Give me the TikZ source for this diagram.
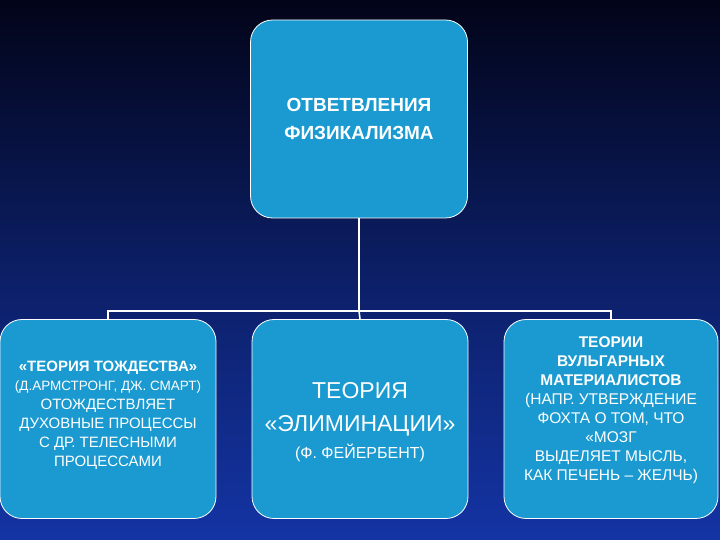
\documentclass[tikz,border=0pt]{standalone}
\usepackage{fontspec}
\setmainfont{Liberation Sans}
\begin{document}
\begin{tikzpicture}[x=1pt,y=1pt,
  bx/.style={draw=white,line width=0.8pt,fill=boxc,rounded corners=22pt,text=white,align=center,inner sep=0pt},
  ln/.style={draw=white,line width=1.6pt}]
\definecolor{boxc}{HTML}{1A9AD0}
\definecolor{bgtop}{HTML}{020418}
\definecolor{bgbot}{HTML}{1434A4}
\shade[top color=bgtop,bottom color=bgbot,middle color=bgbot!55!bgtop] (0,0) rectangle (720,540);
\useasboundingbox (0,0) rectangle (720,540);
\node[bx,minimum width=217pt,minimum height=198pt,font=\fontsize{19}{28}\selectfont\bfseries] (top) at (359,421) {ОТВЕТВЛЕНИЯ\\ФИЗИКАЛИЗМА};
\node[bx,minimum width=216pt,minimum height=199pt] (b1) at (108,121) {};
\node[text=white,align=center,font=\fontsize{15}{19}\selectfont] (t1) at (108,125) {\textbf{«ТЕОРИЯ ТОЖДЕСТВА»}\\
{\fontsize{13.5}{19}\selectfont(Д.АРМСТРОНГ, ДЖ. СМАРТ)}\\ОТОЖДЕСТВЛЯЕТ\\ДУХОВНЫЕ ПРОЦЕССЫ\\С ДР. ТЕЛЕСНЫМИ\\ПРОЦЕССАМИ};
\node[bx,minimum width=216pt,minimum height=199pt] (b2) at (360,121) {};
\node[text=white,align=center,font=\fontsize{23}{33}\selectfont] (t2) at (360,118) {ТЕОРИЯ\\«ЭЛИМИНАЦИИ»\\[-6pt]{\fontsize{16}{24}\selectfont(Ф. ФЕЙЕРБЕНТ)}};
\node[bx,minimum width=214pt,minimum height=199pt] (b3) at (611,121) {};
\node[text=white,align=center,font=\fontsize{15.5}{19}\selectfont] (t3) at (611,130) {\textbf{ТЕОРИИ}\\\textbf{ВУЛЬГАРНЫХ}\\\textbf{МАТЕРИАЛИСТОВ}\\(НАПР. УТВЕРЖДЕНИЕ\\ФОХТА О ТОМ, ЧТО\\«МОЗГ\\ВЫДЕЛЯЕТ МЫСЛЬ,\\КАК ПЕЧЕНЬ – ЖЕЛЧЬ)};
\coordinate (j) at (359,229);
\draw[ln] (top.south) -- (j);
\draw[ln] (j) -| (b1.north);
\draw[ln] (j) -| (b3.north);
\draw[ln] (j) -- (b2.north);
\end{tikzpicture}
\end{document}
